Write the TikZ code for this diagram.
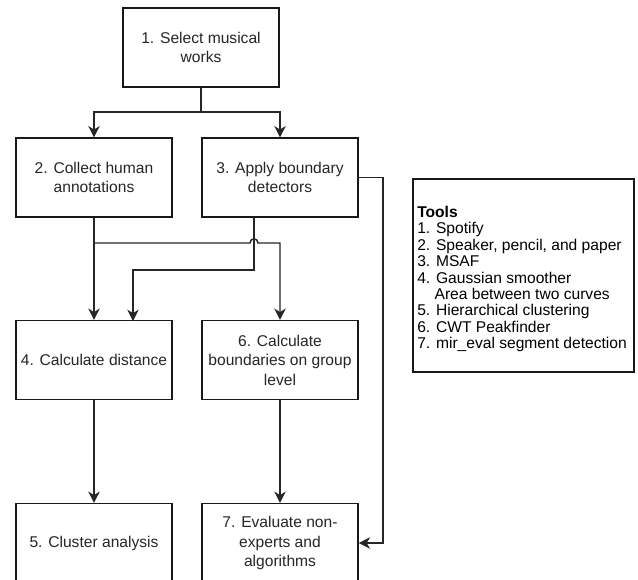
\documentclass[tikz,border=0pt]{standalone}
\usepackage{fontspec}
\setmainfont{Liberation Sans}
\usetikzlibrary{arrows.meta}
\begin{document}
\begin{tikzpicture}[x=0.75pt,y=-0.75pt,
  box/.style={draw=black!90, line width=1.1pt, minimum width=117pt, minimum height=59pt, inner sep=0pt, align=center, font=\fontsize{11.7}{14.6}\selectfont, text=black!85},
  conn/.style={line width=1.1pt, draw=black!85},
  arr/.style={conn, -{Stealth[length=8.5pt,width=8.5pt,inset=2.6pt]}}]
\clip (0,0) rectangle (638,579);
\fill[white] (0,0) rectangle (638,579);
\node[box] (b1) at (201,47.5) {1. Select musical\\works};
\node[box] (b2) at (94,177.5) {2. Collect human\\annotations};
\node[box] (b3) at (280,177.5) {3. Apply boundary\\detectors};
\node[box] (b4) at (94,360) {4. Calculate distance};
\node[box] (b6) at (280,360) {6. Calculate\\boundaries on group\\level};
\node[box] (b5) at (94,543) {5. Cluster analysis};
\node[box] (b7) at (280,543) {7. Evaluate non-\\experts and\\algorithms};
\node[draw=black!90, line width=1.1pt, minimum width=165.75pt, minimum height=144.75pt, inner sep=0pt] (tools) at (523.5,275.5) {};
\node[anchor=north west, inner sep=0pt, align=left, font=\fontsize{11.7}{12.3}\selectfont] (toolstext) at (417,206) {\textbf{Tools}\\1. Spotify\\2. Speaker, pencil, and paper\\3. MSAF\\4. Gaussian smoother\\\hspace*{13pt}Area between two curves\\5. Hierarchical clustering\\6. CWT Peakfinder\\7. mir\_eval segment detection};
% connectors
\coordinate (j1) at (201,112);
\draw[conn] (b1.south) -- (j1);
\draw[arr] (j1) -| (b2.north);
\draw[arr] (j1) -| (b3.north);
\draw[arr] (b2.south) -- (b4.north);
\coordinate (j2) at (94,243);
\coordinate (h1) at (250,243);
\coordinate (h2) at (258,243);
\coordinate (c6) at (280,243);
\draw[arr] (j2) -- (h1) .. controls (250,237.5) and (258,237.5) .. (h2) -- (c6) -- (b6.north);
\coordinate (s3) at (254,217);
\coordinate (k3) at (254,270);
\coordinate (t4) at (133,321);
\draw[arr] (s3) -- (k3) -| (t4);
\coordinate (r3) at (383,177.5);
\draw[arr] (b3.east) -- (r3) |- (b7.east);
\draw[arr] (b4.south) -- (b5.north);
\draw[arr] (b6.south) -- (b7.north);
\end{tikzpicture}
\end{document}
